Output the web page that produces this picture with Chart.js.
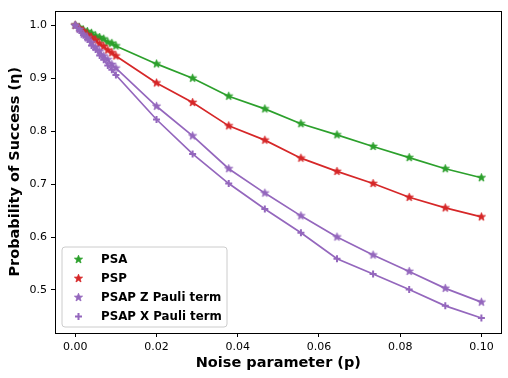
<!DOCTYPE html>
<html>
<head>
<meta charset="utf-8">
<script src="https://cdn.jsdelivr.net/npm/chart.js@4/dist/chart.umd.min.js"></script>
<style>
html,body{margin:0;padding:0;background:#fff;}
#wrap{width:508px;height:378px;position:relative;}
</style>
</head>
<body>
<div id="wrap"><canvas id="c" width="508" height="378"></canvas></div>
<script>
// ---- data ----
const noiseP = [0, 0.001, 0.002, 0.003, 0.004, 0.005, 0.006, 0.007, 0.008, 0.009, 0.010,
  0.020, 0.02889, 0.03778, 0.04667, 0.05556, 0.06444, 0.07333, 0.08222, 0.09111, 0.100];
const psa = [1.000, 0.996, 0.991, 0.988, 0.985, 0.980, 0.977, 0.974, 0.968, 0.966, 0.961,
  0.927, 0.900, 0.866, 0.842, 0.814, 0.793, 0.771, 0.750, 0.729, 0.712];
const psp = [1.000, 0.994, 0.989, 0.982, 0.977, 0.972, 0.965, 0.960, 0.953, 0.948, 0.942,
  0.891, 0.854, 0.810, 0.783, 0.749, 0.724, 0.701, 0.675, 0.655, 0.638];
const psapZ = [1.000, 0.992, 0.983, 0.976, 0.967, 0.958, 0.951, 0.942, 0.935, 0.926, 0.919,
  0.847, 0.791, 0.729, 0.683, 0.640, 0.600, 0.566, 0.535, 0.503, 0.477];
const psapX = [1.000, 0.990, 0.981, 0.973, 0.962, 0.954, 0.943, 0.935, 0.924, 0.916, 0.906,
  0.822, 0.757, 0.701, 0.653, 0.608, 0.559, 0.530, 0.501, 0.470, 0.447];
const seriesNames = ['PSA', 'PSP', 'PSAP Z Pauli term', 'PSAP X Pauli term'];
const xTicks = [0, 0.02, 0.04, 0.06, 0.08, 0.10];
const yTicks = [0.5, 0.6, 0.7, 0.8, 0.9, 1.0];
const xTitle = 'Noise parameter (p)';
const yTitle = 'Probability of Success (η)';

// ---- styling ----
const GREEN = '#2ca02c', RED = '#d62728', PURPLE = '#9467bd';
const FONT = "'DejaVu Sans', sans-serif";

function starImage(color, R) {
  const s = Math.ceil(R * 2 + 4);
  const cv = document.createElement('canvas');
  cv.width = s; cv.height = s;
  const g = cv.getContext('2d');
  const cx = s / 2, cy = s / 2, r = R * 0.42;
  g.beginPath();
  for (let i = 0; i < 10; i++) {
    const a = -Math.PI / 2 + i * Math.PI / 5;
    const rr = i % 2 === 0 ? R : r;
    const x = cx + rr * Math.cos(a), y = cy + rr * Math.sin(a);
    i ? g.lineTo(x, y) : g.moveTo(x, y);
  }
  g.closePath();
  g.fillStyle = color; g.fill();
  g.lineWidth = 0.8; g.strokeStyle = color; g.stroke();
  return cv;
}
const starG = starImage(GREEN, 4.3), starR = starImage(RED, 4.3), starP = starImage(PURPLE, 4.3);

function pts(arr) { return noiseP.map((x, i) => ({x: x, y: arr[i]})); }

const frame = {
  id: 'frame',
  afterDatasetsDraw(chart) {
    const {ctx, chartArea: a} = chart;
    ctx.save();
    ctx.strokeStyle = '#000'; ctx.lineWidth = 1;
    ctx.strokeRect(Math.round(a.left) + 0.5, Math.round(a.top) + 0.5,
      Math.round(a.right - a.left) - 1, Math.round(a.bottom - a.top));
    // legend
    const lx = 62, ly = 247, lw = 165, lh = 80, rad = 3;
    ctx.beginPath();
    ctx.moveTo(lx + rad, ly);
    ctx.arcTo(lx + lw, ly, lx + lw, ly + lh, rad);
    ctx.arcTo(lx + lw, ly + lh, lx, ly + lh, rad);
    ctx.arcTo(lx, ly + lh, lx, ly, rad);
    ctx.arcTo(lx, ly, lx + lw, ly, rad);
    ctx.closePath();
    ctx.fillStyle = 'rgba(255,255,255,0.8)'; ctx.fill();
    ctx.strokeStyle = '#cccccc'; ctx.lineWidth = 1; ctx.stroke();
    const rows = [259.5, 278.5, 297.5, 316.5];
    const imgs = [starG, starR, starP, null];
    ctx.font = "bold 11.8px " + FONT;
    ctx.fillStyle = '#000'; ctx.textBaseline = 'middle'; ctx.textAlign = 'left';
    rows.forEach((y, i) => {
      if (imgs[i]) {
        ctx.drawImage(imgs[i], 78.5 - imgs[i].width / 2, y - imgs[i].height / 2);
      } else {
        ctx.strokeStyle = PURPLE; ctx.lineWidth = 2;
        ctx.beginPath();
        ctx.moveTo(78.5 - 3.5, y); ctx.lineTo(78.5 + 3.5, y);
        ctx.moveTo(78.5, y - 3.5); ctx.lineTo(78.5, y + 3.5);
        ctx.stroke();
      }
      ctx.fillStyle = '#000';
      ctx.fillText(seriesNames[i], 101, y + 0.5);
    });
    // axis titles
    ctx.font = "bold 14.5px " + FONT;
    ctx.textAlign = 'center'; ctx.textBaseline = 'middle';
    ctx.fillText(xTitle, (a.left + a.right) / 2, 363);
    ctx.save();
    ctx.translate(15, (a.top + a.bottom) / 2);
    ctx.rotate(-Math.PI / 2);
    ctx.fillText(yTitle, 0, 0);
    ctx.restore();
    ctx.restore();
  }
};

const ds = (label, arr, color, style, order, extra) => Object.assign({
  label: label, data: pts(arr), borderColor: color, backgroundColor: color,
  borderWidth: 1.7, pointStyle: style, pointRadius: 4.3, pointHoverRadius: 4.3,
  pointBorderWidth: 0, tension: 0, fill: false, order: order, clip: false
}, extra || {});

new Chart(document.getElementById('c'), {
  type: 'line',
  data: {
    datasets: [
      ds(seriesNames[0], psa, GREEN, starG, 4),
      ds(seriesNames[1], psp, RED, starR, 3),
      ds(seriesNames[2], psapZ, PURPLE, starP, 2),
      ds(seriesNames[3], psapX, PURPLE, 'cross', 1, {pointRadius: 3.5, pointBorderWidth: 2, pointBorderColor: PURPLE})
    ]
  },
  options: {
    responsive: false, animation: false, devicePixelRatio: 1,
    layout: {padding: {top: 7, right: 6, left: 0, bottom: 0}},
    plugins: {legend: {display: false}, tooltip: {enabled: false}},
    scales: {
      x: {
        type: 'linear', min: -0.005, max: 0.105,
        afterBuildTicks: s => { s.ticks = xTicks.map(v => ({value: v})); },
        afterFit: s => { s.height = 45; },
        ticks: {color: '#000', font: {family: FONT, size: 11}, padding: 4, maxRotation: 0,
          callback: v => v.toFixed(2)},
        grid: {display: true, drawOnChartArea: false, drawTicks: true, tickLength: 4, color: '#000', tickWidth: 1},
        border: {display: false}
      },
      y: {
        type: 'linear', min: 0.4187, max: 1.0277,
        afterBuildTicks: s => { s.ticks = yTicks.map(v => ({value: v})); },
        afterFit: s => { s.width = 55; },
        ticks: {color: '#000', font: {family: FONT, size: 11}, padding: 4,
          callback: v => v.toFixed(1)},
        grid: {display: true, drawOnChartArea: false, drawTicks: true, tickLength: 4, color: '#000', tickWidth: 1},
        border: {display: false}
      }
    }
  },
  plugins: [frame]
});
</script>
</body>
</html>
